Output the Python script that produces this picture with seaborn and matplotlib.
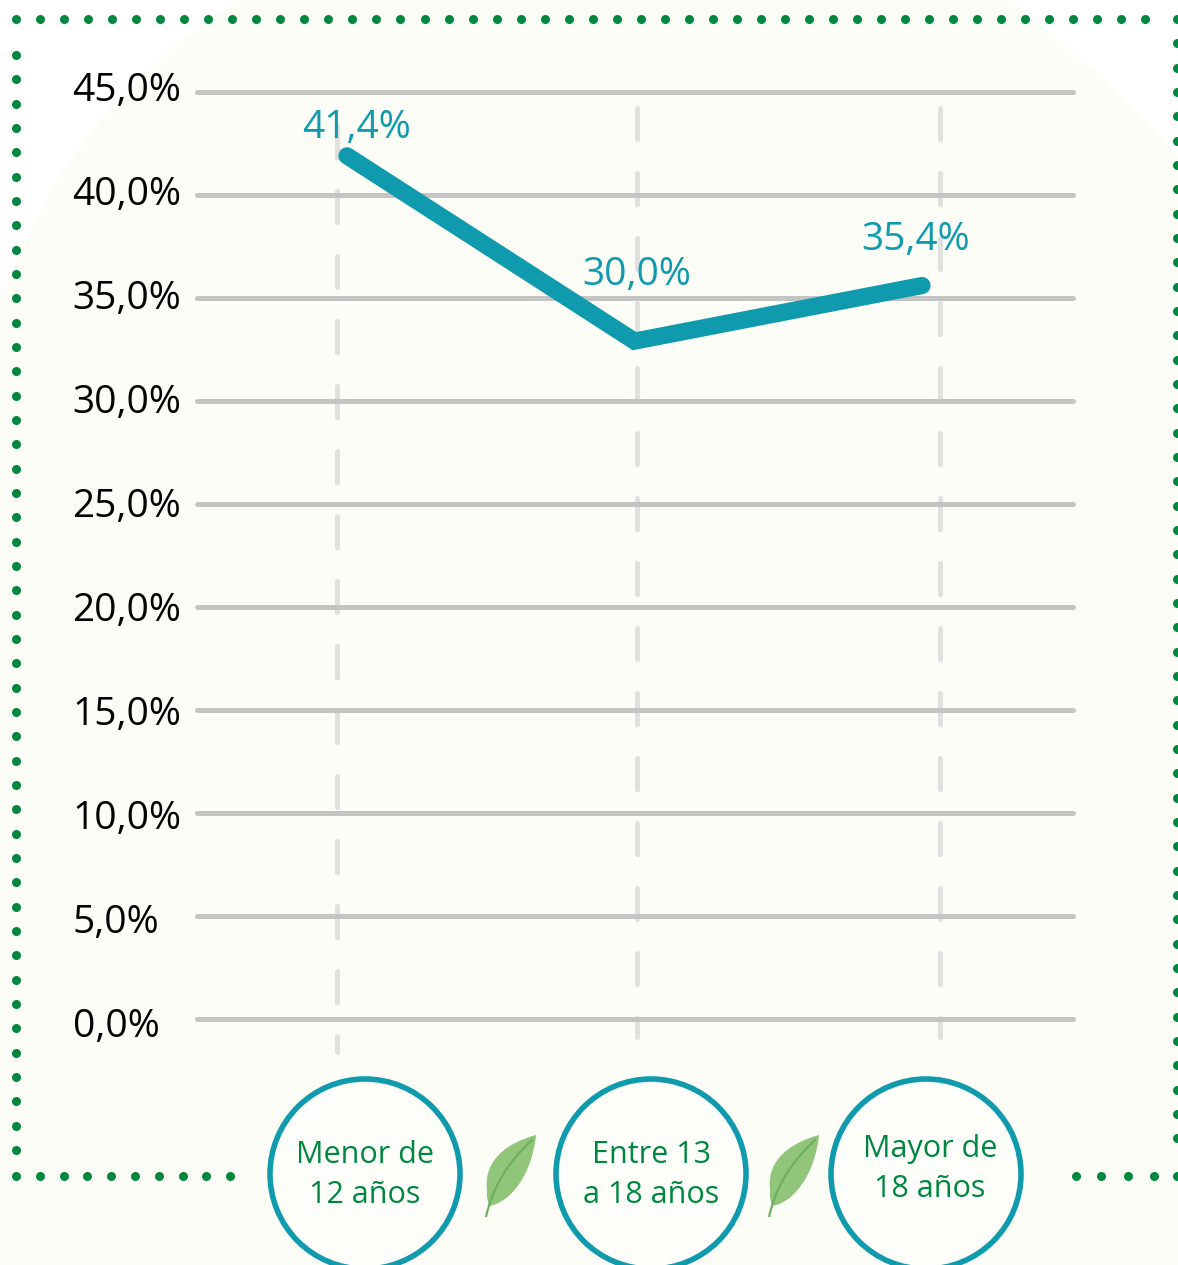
"""Línea por edad con bordes punteados, círculos y hojas."""
import numpy as np
import pandas as pd
import matplotlib.pyplot as plt
from matplotlib.patches import Circle, PathPatch, Polygon
from matplotlib.path import Path
import seaborn as sns

categories = ["Menor de 12 años", "Entre 13 a 18 años", "Mayor de 18 años"]
drawn_values = [41.9, 32.9, 35.6]
value_labels = ["41,4%", "30,0%", "35,4%"]
y_ticks = [0, 5, 10, 15, 20, 25, 30, 35, 40, 45]
y_tick_labels = ["0,0%", "5,0%", "10,0%", "15,0%", "20,0%", "25,0%", "30,0%", "35,0%", "40,0%", "45,0%"]
circle_text = ["Menor de\n12 años", "Entre 13\na 18 años", "Mayor de\n18 años"]

TEAL = "#0F9BAD"
GREEN = "#00873F"
W, H = 1178, 1265

sns.set_theme(style="white")
plt.rcParams["font.family"] = ["Open Sans", "DejaVu Sans"]
plt.rcParams["lines.scale_dashes"] = False


def px_axes(fig, left, right, top, bottom):
    return fig.add_axes([left / W, 1 - bottom / H, (right - left) / W, (bottom - top) / H])


def draw_leaf(ax, dx):
    verts = [(536, 1135), (500, 1145), (484, 1165), (487, 1190), (487, 1197), (489, 1206),
             (510, 1203), (532, 1175), (536, 1135)]
    codes = [Path.MOVETO, Path.CURVE4, Path.CURVE4, Path.CURVE4, Path.LINETO, Path.LINETO,
             Path.CURVE4, Path.CURVE4, Path.CURVE4]
    ax.add_patch(PathPatch(Path([(x + dx, y) for x, y in verts], codes), fc="#90C57A", ec="none"))
    vein = Path([(x + dx, y) for x, y in [(533, 1139), (505, 1165), (492, 1190), (486, 1217)]],
                [Path.MOVETO, Path.CURVE4, Path.CURVE4, Path.CURVE4])
    ax.add_patch(PathPatch(vein, fc="none", ec="#6DB05F", lw=1.6))


fig = plt.figure(figsize=(W / 100, H / 100), dpi=100, facecolor="white")

# capa de fondo en pixeles
bg = fig.add_axes([0, 0, 1, 1])
bg.set_xlim(0, W)
bg.set_ylim(H, 0)
bg.axis("off")
bg.add_patch(Polygon([(237, 0), (170, 50), (110, 108), (60, 175), (22, 250), (0, 300), (0, H), (W, H),
                      (W, 155), (1100, 75), (1010, 0)], fc="#FCFDF7", ec="none"))

# guias punteadas verticales
for x, y0, y1 in [(337, 126, 1052), (637, 108, 1037), (940, 108, 1037)]:
    bg.plot([x, x], [y0, y1], color="#E0E0E0", lw=3.6, linestyle=(0, (22.5, 24.3)),
            dash_capstyle="round")

# borde de puntos
top_x = np.arange(16, 1150, 24.03)
left_y = np.arange(55, 1155, 24.33)
right_y = np.arange(19, 1145, 24.33)
bottom_x = np.arange(16, 232, 23.8)
right_bottom_x = [1076, 1101, 1128, 1154, 1177]
bg.scatter(top_x, [19] * len(top_x), s=42, color=GREEN, lw=0)
bg.scatter([16] * len(left_y), left_y, s=42, color=GREEN, lw=0)
bg.scatter([1177] * len(right_y), right_y, s=42, color=GREEN, lw=0)
bg.scatter(bottom_x, [1176] * len(bottom_x), s=42, color=GREEN, lw=0)
bg.scatter(right_bottom_x, [1176] * len(right_bottom_x), s=42, color=GREEN, lw=0)

# circulos y hojas
for cx, text, ty in zip([365, 651, 926], circle_text, [1175, 1175, 1169]):
    bg.add_patch(Circle((cx, 1174), 95, fc="#FEFFFB", ec=TEAL, lw=4))
    bg.text(cx + (4 if cx == 926 else 0), ty, text, ha="center", va="center", color=GREEN,
            fontsize=22, linespacing=1.4)
draw_leaf(bg, 0)
draw_leaf(bg, 283)

# etiquetas del eje y, con su propio paso
lab = px_axes(fig, 194, 1075, 86, 1022)
lab.patch.set_alpha(0)
lab.set_ylim(0, 45)
lab.set_yticks(y_ticks, y_tick_labels, fontsize=28, ha="left", color="black")
lab.tick_params(axis="y", length=0, pad=87.4)
lab.set_xticks([])
sns.despine(ax=lab, left=True, bottom=True)

# grafico principal
df = pd.DataFrame({"edad": categories, "valor": drawn_values})
ax = px_axes(fig, 196.5, 1072.5, 92, 1018.5)
ax.patch.set_alpha(0)
ax.set_ylim(0, 45)
ax.set_yticks(y_ticks)
ax.set_yticklabels([])
ax.tick_params(axis="both", length=0)
ax.yaxis.grid(True, color="#C4C4C4", lw=3.6)
for gl in ax.yaxis.get_gridlines():
    gl.set_solid_capstyle("round")
    gl.set_clip_on(False)
sns.lineplot(data=df, x="edad", y="valor", sort=False, color=TEAL, lw=12.4, ax=ax,
             solid_capstyle="round", solid_joinstyle="miter", clip_on=False, errorbar=None)
ax.set_xlim(-0.5235, 2.5235)
ax.set_xticks([0, 1, 2], ["", "", ""])
ax.set_xlabel("")
ax.set_ylabel("")
sns.despine(ax=ax, left=True, bottom=True)

offsets = [(6.5, 20), (1.8, 47.6), (-4.3, 33)]
for i, (val, txt, off) in enumerate(zip(drawn_values, value_labels, offsets)):
    ax.annotate(txt, (i, val), xytext=off, textcoords="offset points", ha="center", va="center",
                color=TEAL, fontsize=28)

fig.savefig("out.png", dpi=100)
